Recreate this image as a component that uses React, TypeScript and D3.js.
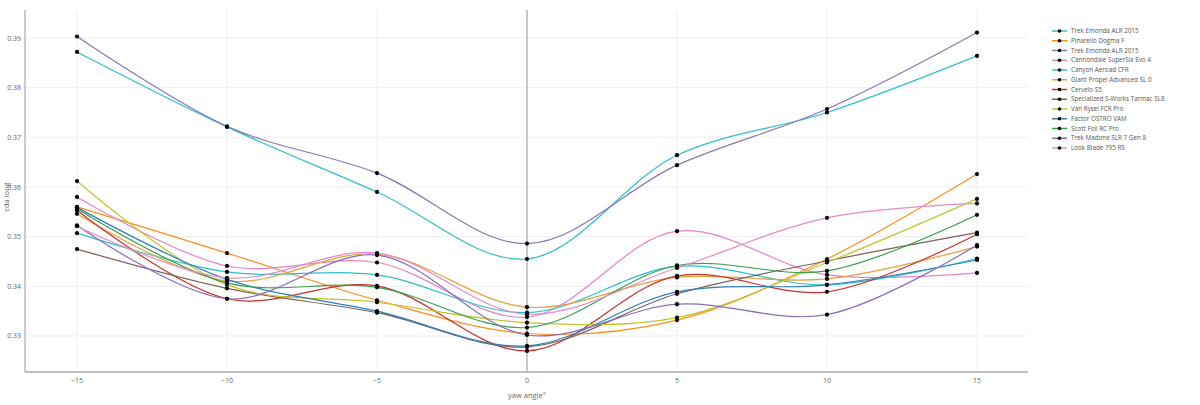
import React from "react";
import * as d3 from "d3";

const yawAngles = [-15, -10, -5, 0, 5, 10, 15];
const xTicks = [-15, -10, -5, 0, 5, 10, 15];
const yTicks = [0.33, 0.34, 0.35, 0.36, 0.37, 0.38, 0.39];

const trekEmondaA = [0.3872, 0.3721, 0.359, 0.3455, 0.3664, 0.375, 0.3864];
const pinarelloDogmaF = [0.356, 0.3467, 0.3372, 0.3305, 0.3332, 0.3455, 0.3626];
const trekEmondaB = [0.3903, 0.3722, 0.3628, 0.3486, 0.3644, 0.3757, 0.3911];
const cannondaleSuperSix = [0.358, 0.3441, 0.3448, 0.3338, 0.3511, 0.3423, 0.3427];
const canyonAeroad = [0.3507, 0.3429, 0.3423, 0.3347, 0.344, 0.3403, 0.3456];
const giantPropel = [0.3546, 0.3411, 0.3465, 0.3358, 0.3418, 0.3415, 0.348];
const cerveloS5 = [0.3553, 0.3375, 0.3401, 0.327, 0.3421, 0.3389, 0.3505];
const specializedTarmac = [0.3475, 0.3396, 0.3347, 0.3278, 0.3385, 0.3451, 0.3508];
const vanRysel = [0.3612, 0.3403, 0.3368, 0.3327, 0.3337, 0.3448, 0.3576];
const factorOstro = [0.3559, 0.3414, 0.335, 0.328, 0.3389, 0.3403, 0.3453];
const scottFoil = [0.3556, 0.3407, 0.3398, 0.3317, 0.3442, 0.3431, 0.3544];
const trekMadone = [0.3523, 0.3375, 0.3463, 0.3302, 0.3364, 0.3343, 0.3483];
const lookBlade = [0.3521, 0.3417, 0.3467, 0.3344, 0.3437, 0.3538, 0.3567];

const bikeNames = [
  "Trek Emonda ALR 2015",
  "Pinarello Dogma F",
  "Trek Emonda ALR 2015",
  "Cannondale SuperSix Evo 4",
  "Canyon Aeroad CFR",
  "Giant Propel Advanced SL 0",
  "Cervelo S5",
  "Specialized S-Works Tarmac SL8",
  "Van Rysel FCR Pro",
  "Factor OSTRO VAM",
  "Scott Foil RC Pro",
  "Trek Madone SLR 7 Gen 8",
  "Look Blade 795 RS",
];
const bikeColors = [
  "#2ebfcc",
  "#ff8c1a",
  "#8677b8",
  "#e384c8",
  "#2ebfcc",
  "#e3a23b",
  "#c9302c",
  "#7d5f5a",
  "#bfc62a",
  "#2f7fb6",
  "#35a04a",
  "#8a6dbd",
  "#e58cc5",
];
const bikeValues = [
  trekEmondaA,
  pinarelloDogmaF,
  trekEmondaB,
  cannondaleSuperSix,
  canyonAeroad,
  giantPropel,
  cerveloS5,
  specializedTarmac,
  vanRysel,
  factorOstro,
  scottFoil,
  trekMadone,
  lookBlade,
];

const W = 1200;
const H = 405;
const plotLeft = 26;
const plotRight = 1028;
const plotTop = 10;
const plotBottom = 372;

export default function App() {
  const x = d3.scaleLinear().domain([-16.7, 16.7]).range([plotLeft, plotRight]);
  const y = d3.scaleLinear().domain([0.32275, 0.39564]).range([plotBottom, plotTop]);
  const line = d3
    .line<[number, number]>()
    .x((d) => x(d[0]))
    .y((d) => y(d[1]))
    .curve(d3.curveCatmullRom.alpha(0.5));
  const fmtX = (v: number) => (v < 0 ? "\u2212" + Math.abs(v) : String(v));
  const fmtY = d3.format(".2f");
  const font = "'Open Sans', sans-serif";

  return (
    <svg
      width={W}
      height={H}
      style={{ position: "absolute", left: 0, top: 0, background: "#fff" }}
      fontFamily={font}
    >
      {/* grid */}
      {xTicks.map((t) => (
        <line key={"gx" + t} x1={x(t)} x2={x(t)} y1={plotTop} y2={plotBottom} stroke="#eeeeee" strokeWidth={1} />
      ))}
      {yTicks.map((t) => (
        <line key={"gy" + t} x1={plotLeft} x2={plotRight} y1={y(t)} y2={y(t)} stroke="#eeeeee" strokeWidth={1} />
      ))}
      {/* zero line */}
      <line x1={x(0)} x2={x(0)} y1={plotTop} y2={plotBottom} stroke="#999" strokeWidth={1} />
      {/* axes lines */}
      <line x1={plotLeft - 1} x2={plotLeft - 1} y1={plotTop} y2={plotBottom} stroke="#999" strokeWidth={1} />
      <line x1={plotLeft - 1} x2={plotRight} y1={plotBottom} y2={plotBottom} stroke="#aaa" strokeWidth={1.5} />

      {/* series */}
      {bikeValues.map((vals, i) => {
        const pts = yawAngles.map((a, j) => [a, vals[j]] as [number, number]);
        return (
          <g key={"s" + i}>
            <path d={line(pts) || ""} fill="none" stroke={bikeColors[i]} strokeWidth={1.2} />
            {pts.map((p, j) => (
              <circle key={j} cx={x(p[0])} cy={y(p[1])} r={2.1} fill="#000" />
            ))}
          </g>
        );
      })}

      {/* tick labels */}
      {xTicks.map((t) => (
        <text key={"tx" + t} x={x(t)} y={383} textAnchor="middle" fontSize={7} fill="#666">
          {fmtX(t)}
        </text>
      ))}
      {yTicks.map((t) => (
        <text key={"ty" + t} x={21} y={y(t) + 2.5} textAnchor="end" fontSize={7} fill="#666">
          {fmtY(t)}
        </text>
      ))}
      <text x={x(0)} y={398} textAnchor="middle" fontSize={7.5} fill="#666">
        yaw angle°
      </text>
      <text
        transform={`translate(8.5, ${(plotTop + plotBottom) / 2 + 6}) rotate(-90)`}
        textAnchor="middle"
        fontSize={7.5}
        fill="#666"
      >
        cda long
      </text>

      {/* legend */}
      {bikeNames.map((name, i) => {
        const ly = 31 + i * 9.75;
        return (
          <g key={"l" + i}>
            <line x1={1052} x2={1067} y1={ly} y2={ly} stroke={bikeColors[i]} strokeWidth={1.5} />
            <circle cx={1059.5} cy={ly} r={1.8} fill="#000" />
            <text x={1071} y={ly + 2.2} fontSize={6.3} fill="#555">
              {name}
            </text>
          </g>
        );
      })}
    </svg>
  );
}
